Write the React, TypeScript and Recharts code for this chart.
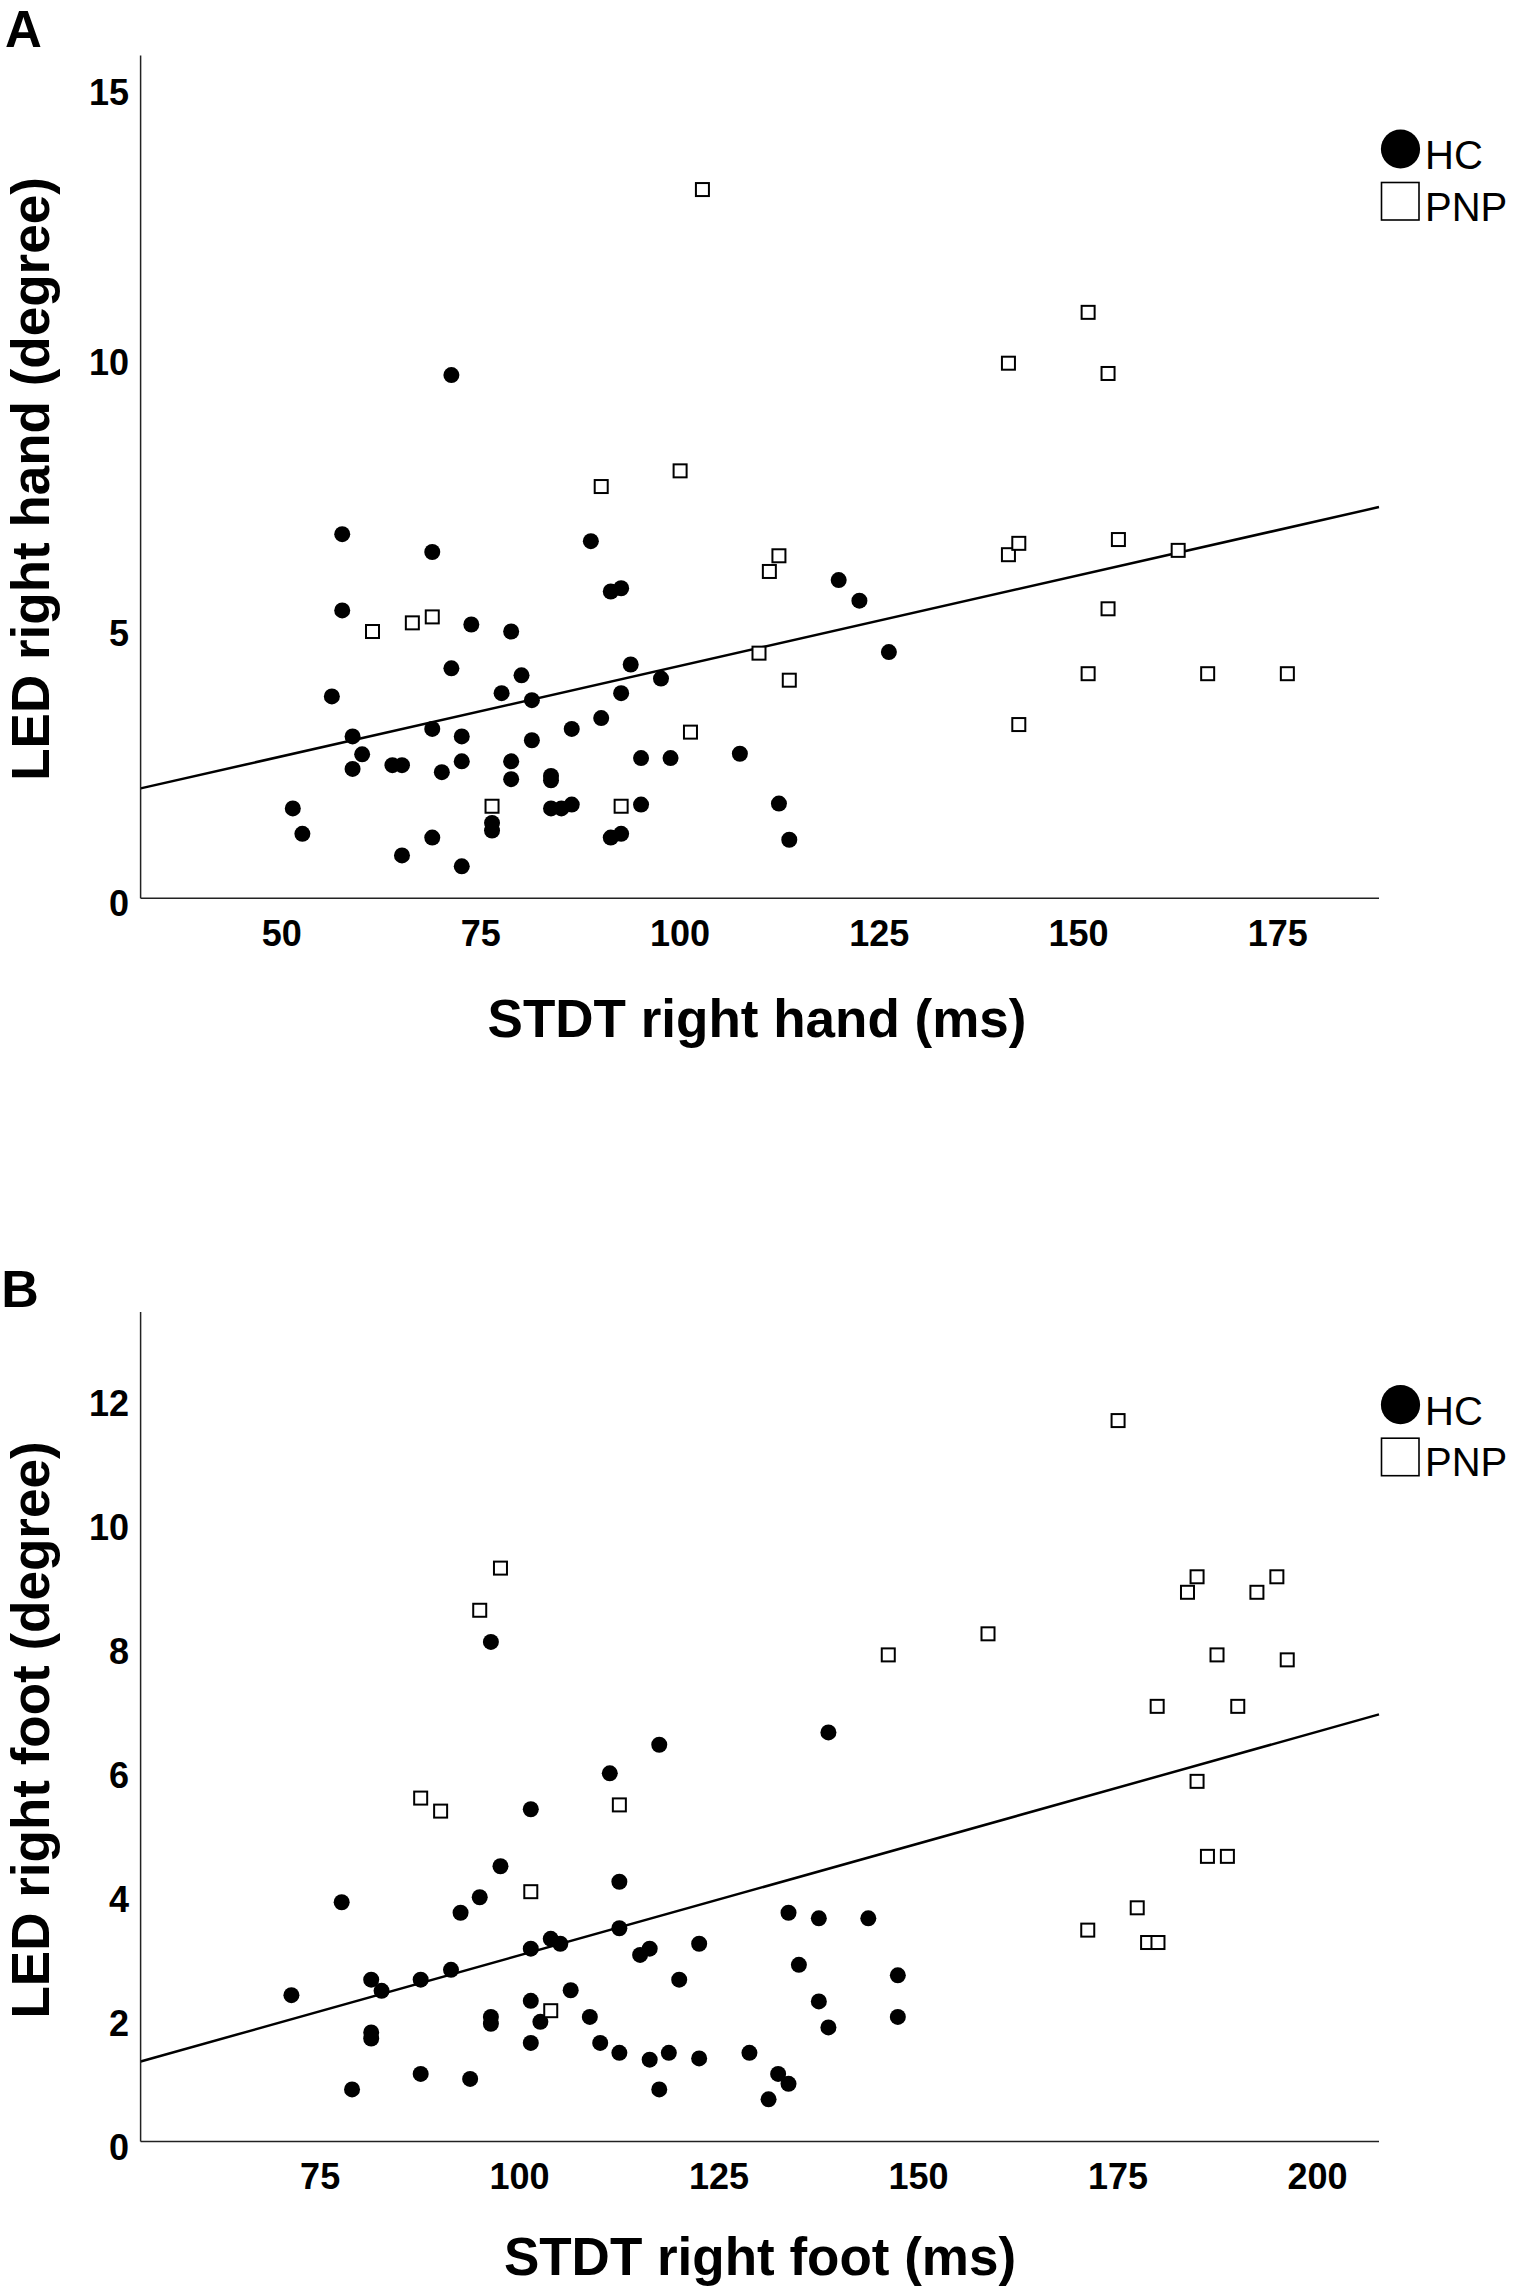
import React from "react";
import { ScatterChart, Scatter, XAxis, YAxis, ReferenceLine } from "recharts";

const FONT = '"Liberation Sans", Arial, Helvetica, sans-serif';

type Pt = [number, number];

// panel A: STDT right hand (ms) vs LED right hand (degree)
const hcHand: Pt[] = [
  [51.4, 1.66], [52.6, 1.19], [56.3, 3.73], [57.6, 6.73], [57.6, 5.32], [58.9, 2.99],
  [58.9, 2.39], [60.1, 2.66], [63.9, 2.46], [65.1, 2.46], [65.1, 0.79], [68.9, 6.4],
  [68.9, 3.13], [68.9, 1.12], [70.1, 2.33], [71.3, 9.67], [71.3, 4.25], [72.6, 2.99],
  [72.6, 2.53], [72.6, 0.59], [73.8, 5.06], [76.4, 1.39], [76.4, 1.25], [77.6, 3.79],
  [78.8, 4.93], [78.8, 2.53], [78.8, 2.2], [80.1, 4.12], [81.4, 3.66], [81.4, 2.92],
  [83.8, 2.26], [83.8, 2.18], [83.8, 1.66], [85.1, 1.66], [86.4, 1.73], [86.4, 3.13],
  [88.8, 6.6], [90.1, 3.33], [91.3, 5.67], [92.6, 5.73], [91.3, 1.12], [92.6, 1.19],
  [92.6, 3.79], [93.8, 4.32], [95.1, 1.73], [95.1, 2.59], [97.6, 4.06], [98.8, 2.59],
  [107.5, 2.67], [112.4, 1.75], [113.7, 1.08], [119.9, 5.88], [122.5, 5.5], [126.2, 4.55],
];
const pnpHand: Pt[] = [
  [102.8, 13.1], [90.1, 7.61], [100.0, 7.9], [61.4, 4.93], [66.4, 5.09], [68.9, 5.2],
  [101.3, 3.07], [76.4, 1.7], [92.6, 1.7], [151.2, 10.83], [141.2, 9.89], [153.7, 9.7],
  [112.4, 6.33], [111.2, 6.04], [141.2, 6.35], [142.5, 6.56], [155.0, 6.63], [162.5, 6.43],
  [153.7, 5.35], [109.9, 4.53], [113.7, 4.03], [151.2, 4.15], [166.2, 4.15], [176.2, 4.15],
  [142.5, 3.21],
];
const fitHand: Pt[] = [[32.3, 2.03], [187.7, 7.23]];
const handXTicks = [50, 75, 100, 125, 150, 175];
const handYTicks = [0, 5, 10, 15];
const handXDomain = [32.3, 187.7];
const handYDomain = [0, 15.58];

// panel B: STDT right foot (ms) vs LED right foot (degree)
const hcFoot: Pt[] = [
  [71.4, 2.36], [77.7, 3.86], [81.4, 2.61], [82.7, 2.43], [81.4, 1.76], [81.4, 1.66],
  [79.0, 0.84], [87.6, 2.61], [87.6, 1.09], [91.4, 2.77], [92.6, 3.69], [95.0, 3.94],
  [93.8, 1.01], [96.4, 2.01], [96.4, 1.9], [97.6, 4.44], [101.4, 5.36], [101.4, 3.11],
  [101.4, 2.27], [101.4, 1.59], [102.6, 1.93], [103.9, 3.27], [105.1, 3.19], [106.4, 2.44],
  [108.8, 2.01], [110.1, 1.59], [111.3, 5.94], [112.5, 4.19], [112.5, 3.44], [112.5, 1.43],
  [115.1, 3.01], [116.3, 3.11], [116.3, 1.32], [117.5, 0.84], [118.7, 1.43], [120.0, 2.61],
  [122.5, 3.19], [122.5, 1.34], [128.8, 1.43], [96.4, 8.06], [117.5, 6.4], [133.7, 3.69],
  [137.5, 3.6], [143.7, 3.6], [135.0, 2.85], [137.5, 2.26], [138.7, 1.84], [147.4, 2.68],
  [147.4, 2.01], [132.4, 1.09], [133.7, 0.93], [131.2, 0.68], [138.7, 6.6],
];
const pnpFoot: Pt[] = [
  [97.6, 9.25], [95.0, 8.57], [87.6, 5.54], [90.1, 5.33], [112.5, 5.43], [101.4, 4.03],
  [103.9, 2.11], [175.0, 11.63], [184.9, 9.11], [183.7, 8.86], [192.4, 8.86], [194.9, 9.11],
  [158.7, 8.19], [146.2, 7.85], [187.4, 7.85], [196.2, 7.77], [179.9, 7.02], [190.0, 7.02],
  [184.9, 5.81], [186.2, 4.6], [188.7, 4.6], [177.4, 3.77], [171.2, 3.41], [178.7, 3.21],
  [180.0, 3.21],
];
const fitFoot: Pt[] = [[52.5, 1.29], [207.7, 6.89]];
const footXTicks = [75, 100, 125, 150, 175, 200];
const footYTicks = [0, 2, 4, 6, 8, 10, 12];
const footXDomain = [52.5, 207.7];
const footYDomain = [0, 13.38];

const toXY = (pts: Pt[]) => pts.map(([x, y]) => ({ x, y }));

const Dot = (p: any) => <circle cx={p.cx} cy={p.cy} r={8} fill="#000" />;
const Box = (p: any) => (
  <rect x={p.cx - 6.5} y={p.cy - 6.5} width={13} height={13} fill="#fff" stroke="#000" strokeWidth={2} />
);

const XTick = (p: any) => (
  <text x={p.x} y={p.y + 47.5} textAnchor="middle" fontFamily={FONT} fontWeight="bold" fontSize={36} fill="#000">
    {p.payload.value}
  </text>
);
const YTick = (p: any) => (
  <text x={p.x - 11.5} y={p.y + 18} textAnchor="end" fontFamily={FONT} fontWeight="bold" fontSize={36} fill="#000">
    {p.payload.value}
  </text>
);

const axisLine = { stroke: "#222", strokeWidth: 1.5 };

function Panel(props: any) {
  const { top, height, plotTop, plotBottom, xDomain, yDomain, xTicks, yTicks, hc, pnp, fit } = props;
  return (
    <div style={{ position: "absolute", left: 0, top }}>
      <ScatterChart
        width={1513}
        height={height}
        margin={{ top: plotTop, right: 134, bottom: height - plotBottom - 60, left: 40.6 }}
      >
        <XAxis type="number" dataKey="x" domain={xDomain} ticks={xTicks} interval={0} height={60}
          tickSize={0} tickMargin={0} tickLine={false} axisLine={axisLine} tick={XTick} allowDataOverflow />
        <YAxis type="number" dataKey="y" domain={yDomain} ticks={yTicks} interval={0} width={100}
          tickSize={0} tickMargin={0} tickLine={false} axisLine={axisLine} tick={YTick} allowDataOverflow />
        <Scatter data={toXY(hc)} shape={Dot} isAnimationActive={false} />
        <Scatter data={toXY(pnp)} shape={Box} isAnimationActive={false} />
        <ReferenceLine
          segment={[{ x: fit[0][0], y: fit[0][1] }, { x: fit[1][0], y: fit[1][1] }]}
          stroke="#000" strokeWidth={2.5} ifOverflow="visible"
        />
      </ScatterChart>
    </div>
  );
}

function Legend({ cy }: { cy: number }) {
  return (
    <g fontFamily={FONT} fontSize={40} fill="#000">
      <circle cx={1400.5} cy={cy} r={19.6} fill="#000" />
      <text x={1425} y={cy + 20}>HC</text>
      <rect x={1381.5} y={cy + 33.5} width={37.5} height={37.5} fill="#fff" stroke="#000" strokeWidth={1.6} />
      <text x={1425} y={cy + 71.5}>PNP</text>
    </g>
  );
}

export default function App() {
  return (
    <div style={{ position: "absolute", left: 0, top: 0, width: 1513, height: 2289, background: "#fff", overflow: "hidden" }}>
      <Panel top={0} height={1100} plotTop={55.4} plotBottom={898.2}
        xDomain={handXDomain} yDomain={handYDomain} xTicks={handXTicks} yTicks={handYTicks}
        hc={hcHand} pnp={pnpHand} fit={fitHand} />
      <Panel top={1200} height={1089} plotTop={112.1} plotBottom={941.5}
        xDomain={footXDomain} yDomain={footYDomain} xTicks={footXTicks} yTicks={footYTicks}
        hc={hcFoot} pnp={pnpFoot} fit={fitFoot} />
      <svg width={1513} height={2289} style={{ position: "absolute", left: 0, top: 0, pointerEvents: "none" }}>
        <g fontFamily={FONT} fontWeight="bold" fill="#000">
          <text x={5} y={46.5} fontSize={51}>A</text>
          <text x={1.2} y={1306.7} fontSize={52}>B</text>
          <text x={757} y={1037} fontSize={53} textAnchor="middle">STDT right hand (ms)</text>
          <text x={760} y={2275} fontSize={53} textAnchor="middle">STDT right foot (ms)</text>
          <text transform="translate(48.5,479) rotate(-90)" fontSize={53} textAnchor="middle">LED right hand (degree)</text>
          <text transform="translate(48.5,1730) rotate(-90)" fontSize={53} textAnchor="middle">LED right foot (degree)</text>
        </g>
        <Legend cy={149} />
        <Legend cy={1404.7} />
      </svg>
    </div>
  );
}
